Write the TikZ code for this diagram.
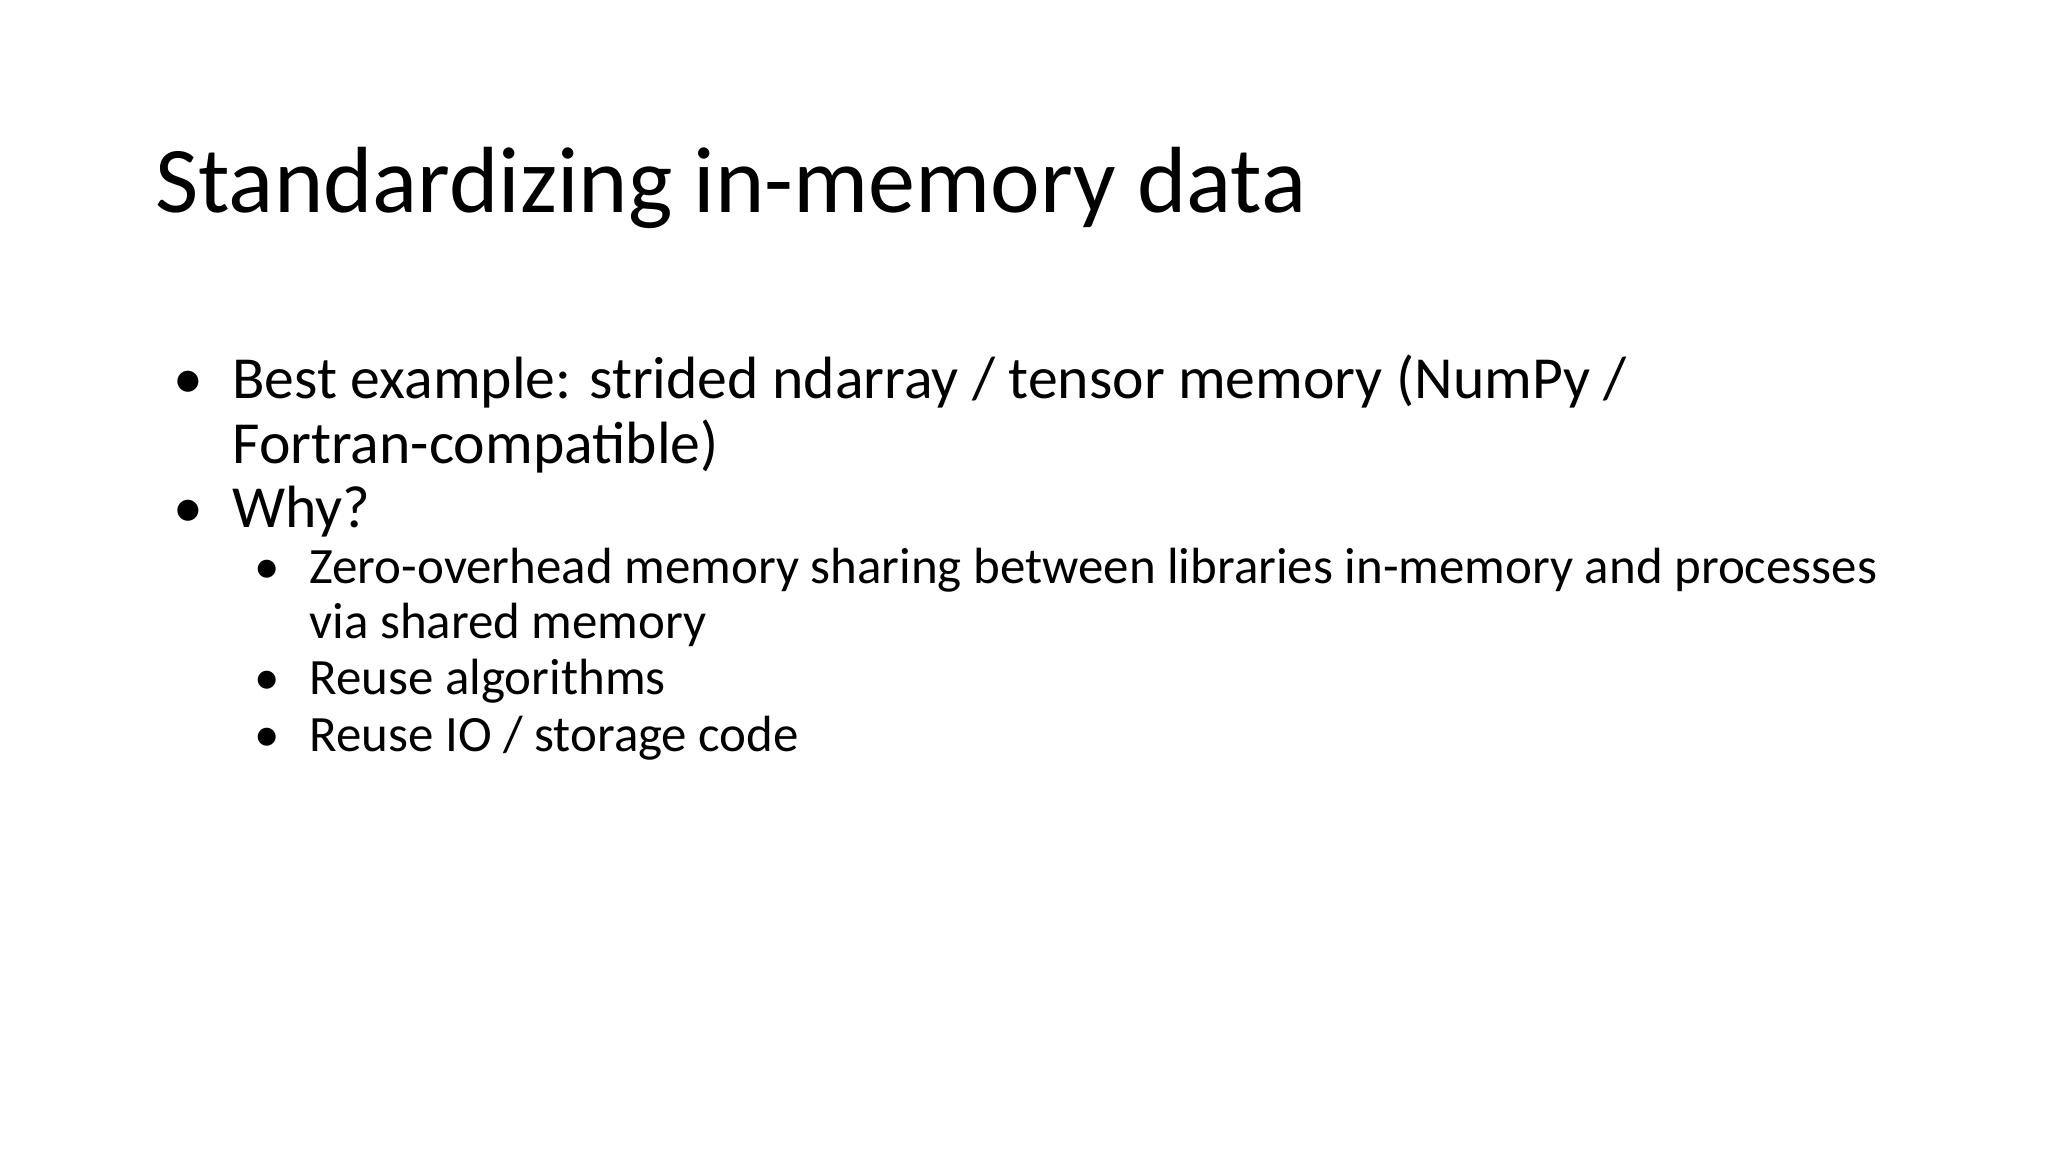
\documentclass[tikz,border=0pt]{standalone}
\usepackage{fontspec}
\setmainfont{Carlito}
\begin{document}
\begin{tikzpicture}[x=1pt,y=-1pt,
  t/.style={anchor=base west,inner sep=0pt,outer sep=0pt},
  lone/.style={t,font=\fontsize{45.7}{55}\selectfont},
  ltwo/.style={t,font=\fontsize{39}{47}\selectfont}]
\useasboundingbox (0,0) rectangle (1568,882);
\node[t,font=\fontsize{72}{86}\selectfont] (title) at (119,163) {Standardizing in-memory data};
\node[lone] (b1) at (133,305) {•};
\node[lone] (l1) at (178,305) {Best example: strided ndarray / tensor memory (NumPy /};
\node[lone] (l1b) at (178,355) {Fortran-compatible)};
\node[lone] (b2) at (133,404) {•};
\node[lone] (l2) at (178,404) {Why?};
\node[ltwo] (s1b) at (195,447) {•};
\node[ltwo] (s1) at (237,447) {Zero-overhead memory sharing between libraries in-memory and processes};
\node[ltwo] (s1c) at (237,489) {via shared memory};
\node[ltwo] (s2b) at (195,532) {•};
\node[ltwo] (s2) at (237,532) {Reuse algorithms};
\node[ltwo] (s3b) at (195,575) {•};
\node[ltwo] (s3) at (237,575) {Reuse IO / storage code};
\end{tikzpicture}
\end{document}
